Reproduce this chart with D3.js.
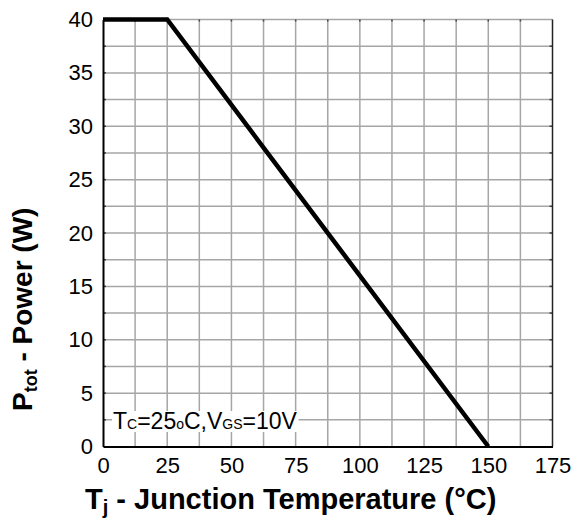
<!DOCTYPE html>
<html>
<head>
<meta charset="utf-8">
<script src="https://cdn.jsdelivr.net/npm/d3@7"></script>
<style>
  body { margin: 0; background: #fff; }
  text { font-family: "Liberation Sans", Arial, sans-serif; }
</style>
</head>
<body>
<div id="container"></div>
<script>
/* DATA */
const tempPoints = [0, 25, 150];      // Tj (°C)
const powerPoints = [40, 40, 0];      // Ptot (W)
const xTicks = [0, 25, 50, 75, 100, 125, 150, 175];
const yTicks = [0, 5, 10, 15, 20, 25, 30, 35, 40];
const xGrid = [12.5, 25, 37.5, 50, 62.5, 75, 87.5, 100, 112.5, 125, 137.5, 150, 162.5];
const yGrid = [2.5, 5, 7.5, 10, 12.5, 15, 17.5, 20, 22.5, 25, 27.5, 30, 32.5, 35, 37.5];

/* CONSTANTS */
const width = 573, height = 519
const margin = {top: 19.5, bottom: 72.5, left: 103, right: 20.5}

const xScale = d3.scaleLinear()
  .domain([0, 175])
  .range([margin.left, width - margin.right])

const yScale = d3.scaleLinear()
  .domain([0, 40])
  .range([height - margin.bottom, margin.top])

const svg = d3.select("#container")
  .append("svg")
  .attr("width", width)
  .attr("height", height)

// GRID
svg.append("g")
  .selectAll("line")
  .data(xGrid)
  .join("line")
  .attr("x1", d => xScale(d)).attr("x2", d => xScale(d))
  .attr("y1", yScale(0)).attr("y2", yScale(40))
  .attr("stroke", "#a6a6a6")
  .attr("stroke-width", 1.5)

svg.append("g")
  .selectAll("line")
  .data(yGrid.concat([40]))
  .join("line")
  .attr("x1", xScale(0)).attr("x2", xScale(175))
  .attr("y1", d => yScale(d)).attr("y2", d => yScale(d))
  .attr("stroke", "#a6a6a6")
  .attr("stroke-width", 1.5)

// small dark ticks on frame edges
svg.append("g")
  .selectAll("line")
  .data(xGrid)
  .join("line")
  .attr("x1", d => xScale(d)).attr("x2", d => xScale(d))
  .attr("y1", yScale(40)).attr("y2", yScale(40) + 2)
  .attr("stroke", "#444").attr("stroke-width", 1.5)

svg.append("g")
  .selectAll("line")
  .data(yGrid)
  .join("line")
  .attr("x1", xScale(175) - 3).attr("x2", xScale(175))
  .attr("y1", d => yScale(d)).attr("y2", d => yScale(d))
  .attr("stroke", "#444").attr("stroke-width", 1.5)

svg.append("g")
  .selectAll("line")
  .data(yGrid)
  .join("line")
  .attr("x1", xScale(0)).attr("x2", xScale(0) + 3)
  .attr("y1", d => yScale(d)).attr("y2", d => yScale(d))
  .attr("stroke", "#444").attr("stroke-width", 1.5)

// frame
svg.append("line")
  .attr("x1", xScale(175)).attr("x2", xScale(175))
  .attr("y1", yScale(0)).attr("y2", yScale(40))
  .attr("stroke", "#222").attr("stroke-width", 1.5)

// AXES
const xAxis = d3.axisBottom(xScale).tickValues(xTicks).tickSize(0).tickPadding(11)
const yAxis = d3.axisLeft(yScale).tickValues(yTicks).tickSize(0).tickPadding(10)

svg.append("g")
  .attr("transform", `translate(0,${yScale(0)})`)
  .call(xAxis)
  .call(g => g.select(".domain").attr("stroke", "#000").attr("stroke-width", 2))
  .call(g => g.selectAll("text").attr("font-size", 22).attr("fill", "#000")
    .style("font-family", "'Liberation Sans', Arial, sans-serif"))

svg.append("g")
  .attr("transform", `translate(${xScale(0)},0)`)
  .call(yAxis)
  .call(g => g.select(".domain").attr("stroke", "#000").attr("stroke-width", 2))
  .call(g => g.selectAll("text").attr("font-size", 22).attr("fill", "#000")
    .style("font-family", "'Liberation Sans', Arial, sans-serif"))

// CONDITION LABEL
const condBg = svg.append("rect").attr("fill", "#fff")
const cond = svg.append("text")
  .attr("x", 113)
  .attr("y", 429)
  .attr("font-size", 23)
  .attr("fill", "#000")
cond.append("tspan").text("T")
cond.append("tspan").attr("font-size", 14).text("C")
cond.append("tspan").text("=25")
cond.append("tspan").attr("font-size", 14).text("o")
cond.append("tspan").text("C,V")
cond.append("tspan").attr("font-size", 14).text("GS")
cond.append("tspan").text("=10V")

const bb = cond.node().getBBox()
condBg.attr("x", bb.x - 1).attr("y", 411)
  .attr("width", bb.width + 2).attr("height", 21)

// LINE
const line = d3.line()
  .x((d, i) => xScale(tempPoints[i]))
  .y(d => yScale(d))

svg.append("path")
  .attr("d", line(powerPoints))
  .attr("fill", "none")
  .attr("stroke", "#000")
  .attr("stroke-width", 4.5)
  .attr("stroke-linejoin", "miter")

// TITLES
const xt = svg.append("text")
  .attr("x", 85)
  .attr("y", 509)
  .attr("font-size", 29)
  .attr("font-weight", "bold")
xt.append("tspan").text("T")
xt.append("tspan").attr("font-size", 20).attr("dy", 5).text("j")
xt.append("tspan").attr("dy", -5).text(" - Junction Temperature (°C)")

const yt = svg.append("text")
  .attr("transform", "translate(32,411) rotate(-90)")
  .attr("font-size", 28)
  .attr("font-weight", "bold")
yt.append("tspan").text("P")
yt.append("tspan").attr("font-size", 18).attr("dy", 5).text("tot")
yt.append("tspan").attr("dy", -5).text(" - Power (W)")
</script>
</body>
</html>
